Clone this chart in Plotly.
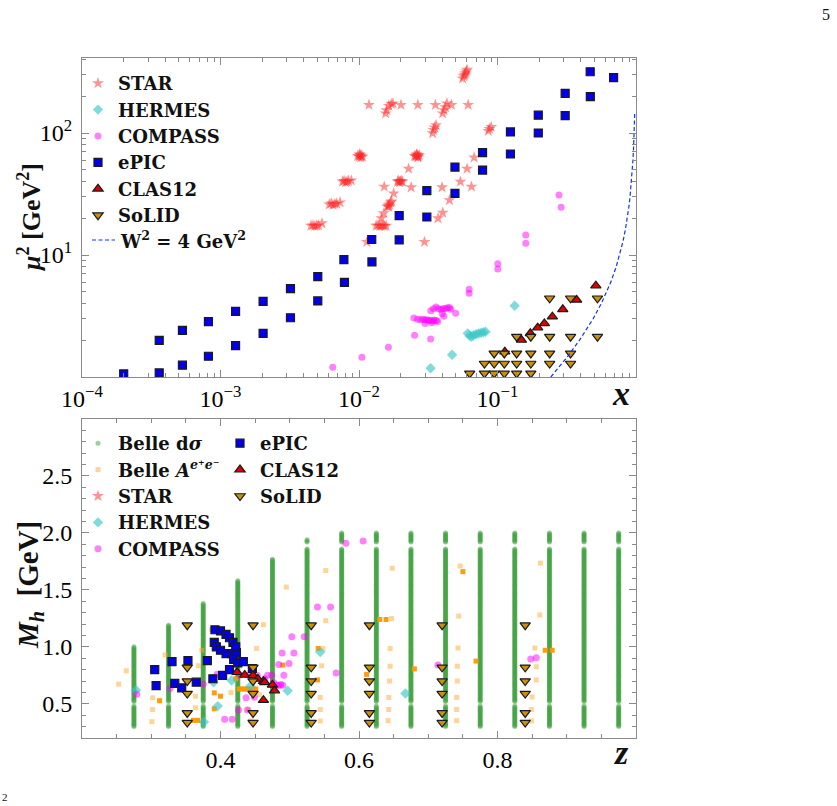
import plotly.graph_objects as go

# ------------------------------------------------------------------
# TOP PANEL  (x , mu^2)
# ------------------------------------------------------------------
star_top = [
    (0.0560, 280), (0.0570, 292), (0.0578, 300), (0.0587, 310), (0.0595, 320), (0.0603, 330),
    (0.0118, 170), (0.0201, 170), (0.0266, 170), (0.0356, 170), (0.0465, 170), (0.0614, 170),
    (0.0156, 145), (0.0158, 154), (0.0164, 167), (0.0171, 173), (0.0176, 175),
    (0.0402, 145), (0.0411, 154), (0.0421, 163), (0.0431, 175),
    (0.0340, 99.6), (0.0345, 106), (0.0352, 111), (0.0360, 116),
    (0.0858, 104), (0.0875, 108), (0.0900, 112),
    (0.0098, 65), (0.0100, 64), (0.0102, 66), (0.0104, 65), (0.0106, 64), (0.0101, 67), (0.0103, 63),
    (0.0252, 65), (0.0256, 64), (0.0260, 66), (0.0264, 65), (0.0268, 64), (0.0272, 66), (0.0262, 67), (0.0266, 63),
    (0.0678, 63), (0.0228, 51), (0.0603, 51),
    (0.0076, 40), (0.0078, 40.5), (0.0080, 39.5), (0.0082, 40), (0.0084, 40.5), (0.0088, 40.8),
    (0.0190, 40), (0.0193, 40.5), (0.0196, 39.5), (0.0199, 40), (0.0202, 40.5), (0.0206, 40),
    (0.0152, 36.3), (0.0238, 35.9), (0.0398, 35.9), (0.0540, 39.9), (0.0649, 36.3), (0.0178, 32), (0.0450, 28.2),
    (0.0061, 26), (0.0063, 26.5), (0.0065, 25.8), (0.0067, 26.2), (0.0069, 26.4), (0.0073, 27),
    (0.0160, 25), (0.0163, 25.5), (0.0166, 26), (0.0169, 27), (0.0172, 27.5), (0.0164, 24.8),
    (0.0133, 17.4), (0.0137, 17.5), (0.0141, 17.3), (0.0145, 17.4), (0.0149, 17.5), (0.0153, 17.3),
    (0.0157, 17.4), (0.0145, 20), (0.0151, 22),
    (0.0402, 22.2), (0.0372, 20),
    (0.00450, 17.4), (0.00465, 17.5), (0.00480, 17.3), (0.00495, 17.4), (0.00510, 17.5), (0.0054, 18.2),
    (0.0114, 12.8), (0.0297, 12.8),
]

hermes_top = [
    (0.0329, 1.18), (0.047, 1.52), (0.133, 3.84),
    (0.061, 2.28), (0.063, 2.18), (0.065, 2.14), (0.067, 2.20), (0.070, 2.24),
    (0.073, 2.27), (0.076, 2.30), (0.079, 2.33), (0.082, 2.35),
]

compass_top = [
    (0.00646, 1.20), (0.0105, 1.45), (0.0163, 1.75), (0.0252, 2.20), (0.0329, 2.05),
    (0.0249, 3.05), (0.0265, 2.98), (0.0278, 2.95), (0.0290, 2.97), (0.0300, 2.93), (0.0310, 2.95),
    (0.0320, 2.90), (0.0330, 2.92), (0.0340, 2.88), (0.0350, 2.93), (0.0362, 2.90), (0.0300, 2.74),
    (0.0335, 2.78), (0.0370, 2.85),
    (0.0330, 3.50), (0.0345, 3.62), (0.0360, 3.75), (0.0375, 3.62), (0.0390, 3.58), (0.0405, 3.65),
    (0.0420, 3.62), (0.0435, 3.70), (0.0450, 3.72), (0.0460, 3.60), (0.0400, 3.30), (0.0410, 3.15),
    (0.0499, 3.33),
    (0.0624, 5.23), (0.0624, 4.85), (0.1005, 8.49), (0.1005, 7.68),
    (0.160, 14.6), (0.160, 12.5), (0.278, 31.0), (0.288, 24.6),
]

epic_top = [
    (0.000200, 1.06), (0.000361, 2.0), (0.000361, 1.08), (0.000531, 2.41), (0.000531, 1.25),
    (0.000818, 2.84), (0.000818, 1.48), (0.001285, 3.45), (0.001285, 1.81), (0.00203, 4.17),
    (0.00203, 2.28), (0.0032, 5.3), (0.0032, 3.06), (0.00504, 6.64), (0.00504, 4.2),
    (0.00778, 9.15), (0.00785, 5.97), (0.01236, 13.4), (0.0124, 8.77), (0.0195, 21.0),
    (0.0195, 13.3), (0.0309, 33.7), (0.0309, 20.5), (0.0493, 52.6), (0.0493, 32.0),
    (0.078, 69), (0.078, 49.7), (0.124, 102), (0.124, 67.3), (0.197, 140), (0.197, 100),
    (0.308, 211), (0.308, 139), (0.467, 318), (0.468, 198.5), (0.689, 284),
]

clas12_top = [
    (0.513, 5.6), (0.373, 4.28), (0.296, 3.59), (0.249, 3.12), (0.218, 2.75),
    (0.195, 2.54), (0.1726, 2.28), (0.149, 2.01), (0.113, 1.61),
]

solid_top = [
    (0.238, 4.42), (0.337, 4.42), (0.527, 4.42),
    (0.1375, 2.14), (0.174, 2.14), (0.238, 2.14), (0.337, 2.14), (0.527, 2.14),
    (0.0946, 1.56), (0.112, 1.56), (0.1375, 1.56), (0.174, 1.56), (0.238, 1.56), (0.337, 1.56),
    (0.0805, 1.29), (0.0946, 1.29), (0.112, 1.29), (0.1375, 1.29), (0.174, 1.29), (0.238, 1.29), (0.337, 1.29),
    (0.063, 1.07), (0.0805, 1.07), (0.0946, 1.07), (0.112, 1.07), (0.1375, 1.07), (0.174, 1.07),
]

# W^2 = 4 GeV^2 boundary
W2 = 4.0
M_P2 = 0.938 ** 2
w2_mu2 = [1.0, 1.2, 1.5, 2, 2.5, 3, 4, 5, 6, 8, 10, 13, 16, 20, 25, 30, 40, 50, 60, 75, 90, 110, 130, 150]

# ------------------------------------------------------------------
# BOTTOM PANEL  (z , M_h)
# ------------------------------------------------------------------
belle_z_bins = [0.275, 0.325, 0.375, 0.425, 0.475, 0.525, 0.575, 0.625,
                0.675, 0.725, 0.775, 0.825, 0.875, 0.925, 0.975]
belle_mh_max = [1.00, 1.19, 1.38, 1.58, 1.77, 1.94, 2.00, 2.00,
                2.00, 2.00, 2.00, 2.00, 2.00, 2.00, 2.00]
belle_mh_min = 0.30
belle_mh_step = 0.01
belle_mh_gaps = [(0.485, 0.515), (1.860, 1.915)]   # excluded K0 / D0 mass windows

belleA_light = [
    (0.253, 0.673), (0.264, 0.79), (0.302, 0.553), (0.308, 0.82), (0.302, 0.45), (0.301, 0.343),
    (0.320, 0.93), (0.364, 0.567), (0.368, 0.834), (0.364, 0.465), (0.373, 0.97), (0.387, 1.15),
    (0.415, 0.60), (0.456, 0.58), (0.462, 1.195), (0.452, 0.986), (0.495, 1.525), (0.440, 0.45),
    (0.443, 0.35), (0.546, 0.834), (0.544, 0.556), (0.544, 0.45), (0.544, 0.349), (0.548, 0.985),
    (0.552, 1.23), (0.552, 1.67), (0.645, 0.985), (0.645, 0.83), (0.644, 0.70), (0.643, 0.556),
    (0.643, 0.45), (0.642, 0.352), (0.647, 1.248), (0.648, 1.69), (0.743, 0.99), (0.742, 0.83),
    (0.742, 0.70), (0.741, 0.556), (0.741, 0.45), (0.741, 0.352), (0.744, 1.27), (0.746, 1.71),
    (0.854, 0.99), (0.856, 0.825), (0.856, 0.71), (0.850, 0.56), (0.849, 0.45), (0.849, 0.35),
    (0.861, 1.28), (0.862, 1.735),
]
belleA_dense = [
    (0.312, 0.527), (0.361, 0.355), (0.367, 0.355), (0.391, 0.596), (0.400, 0.567), (0.391, 0.456),
    (0.427, 0.63), (0.431, 0.63), (0.435, 0.63), (0.439, 0.63), (0.443, 0.63), (0.447, 0.63),
    (0.451, 0.63), (0.422, 0.72), (0.490, 0.84), (0.540, 0.71), (0.541, 0.986), (0.611, 0.758),
    (0.630, 1.24), (0.639, 1.24), (0.680, 0.807), (0.750, 1.66), (0.769, 0.875), (0.869, 0.97),
    (0.879, 0.97),
]

hermes_bot = [
    (0.278, 0.62), (0.376, 0.34), (0.396, 0.48), (0.390, 0.69), (0.416, 0.705),
    (0.443, 0.655), (0.497, 0.615), (0.544, 0.955), (0.667, 0.59),
]

compass_bot = [
    (0.279, 0.585), (0.327, 0.635), (0.375, 0.675), (0.395, 0.76), (0.406, 0.364), (0.417, 0.364),
    (0.426, 0.445), (0.437, 0.553), (0.439, 0.445), (0.449, 0.558), (0.428, 0.753), (0.441, 0.75),
    (0.453, 0.75), (0.464, 0.72), (0.468, 0.75), (0.474, 0.75), (0.477, 0.685), (0.481, 0.665),
    (0.484, 0.66), (0.487, 0.67), (0.490, 0.662), (0.4915, 0.75), (0.484, 0.845), (0.499, 0.855),
    (0.489, 0.947), (0.506, 0.947), (0.503, 1.088), (0.521, 1.088), (0.540, 1.35), (0.559, 1.35),
    (0.567, 0.77), (0.581, 1.91), (0.606, 1.93), (0.714, 0.84), (0.848, 0.893), (0.856, 0.904),
]

epic_bot = [
    (0.305, 0.80), (0.307, 0.66), (0.330, 0.87), (0.334, 0.68), (0.344, 0.64), (0.353, 0.88),
    (0.365, 0.69), (0.381, 0.88), (0.389, 0.72), (0.403, 0.75), (0.413, 0.80), (0.392, 1.15),
    (0.400, 1.14), (0.408, 1.11), (0.413, 1.08), (0.418, 1.04), (0.391, 1.04), (0.394, 1.00),
    (0.400, 0.97), (0.408, 0.94), (0.417, 0.94), (0.423, 0.95), (0.419, 0.89), (0.425, 0.86),
    (0.433, 0.87), (0.446, 0.81), (0.422, 1.00),
]

clas12_bot = [
    (0.424, 0.777), (0.435, 0.753), (0.447, 0.750), (0.454, 0.718), (0.462, 0.698),
    (0.464, 0.689), (0.475, 0.666), (0.478, 0.616), (0.462, 0.532),
]

solid_z_bins = [0.352, 0.447, 0.531, 0.615, 0.720, 0.840]
solid_mh_bins = [1.19, 0.82, 0.70, 0.59, 0.42, 0.335]

# ------------------------------------------------------------------
SERIF = "Liberation Serif"
LEG_FONT = "DejaVu Serif"
C_STAR = "rgba(255,40,40,0.5)"
C_HERMES = "rgba(60,200,200,0.65)"
C_COMPASS = "rgba(255,0,255,0.5)"
C_EPIC = "#0000ee"
C_CLAS = "#e00000"
C_SOLID = "#c98f10"
C_BELLE = "rgba(60,160,60,0.5)"
C_BELLEA = "rgba(255,170,50,0.5)"
C_BELLEA_D = "rgba(255,150,0,0.95)"
C_W2 = "#1030ff"
W2_DASH = "4px,2.5px"
EDGE = dict(color="#1a1a1a", width=1.2)


def xs(p):
    return [a for a, _ in p]


def ys(p):
    return [b for _, b in p]


fig = go.Figure()

# ---------------- top panel ----------------
top = dict(xaxis="x", yaxis="y", legend="legend", mode="markers")
fig.add_trace(go.Scatter(x=xs(star_top), y=ys(star_top), name="<b>STAR</b>",
                         marker=dict(symbol="star", size=9, color=C_STAR, line=dict(width=0)), **top))
fig.add_trace(go.Scatter(x=xs(hermes_top), y=ys(hermes_top), name="<b>HERMES</b>",
                         marker=dict(symbol="diamond", size=8, color=C_HERMES, line=dict(width=0)), **top))
fig.add_trace(go.Scatter(x=xs(compass_top), y=ys(compass_top), name="<b>COMPASS</b>",
                         marker=dict(symbol="circle", size=7, color=C_COMPASS, line=dict(width=0)), **top))
fig.add_trace(go.Scatter(x=xs(epic_top), y=ys(epic_top), name="<b>ePIC</b>",
                         marker=dict(symbol="square", size=8, color=C_EPIC, line=EDGE), **top))
fig.add_trace(go.Scatter(x=xs(clas12_top), y=ys(clas12_top), name="<b>CLAS12</b>",
                         marker=dict(symbol="triangle-up", size=9, color=C_CLAS, line=EDGE), **top))
fig.add_trace(go.Scatter(x=xs(solid_top), y=ys(solid_top), name="<b>SoLID</b>",
                         marker=dict(symbol="triangle-down", size=9, color=C_SOLID, line=EDGE), **top))
w2_x = [m / (m + W2 - M_P2) for m in w2_mu2]
fig.add_trace(go.Scatter(x=w2_x, y=w2_mu2, mode="lines", xaxis="x", yaxis="y", showlegend=False,
                         name="W2", line=dict(color=C_W2, width=1.2, dash=W2_DASH)))

# ---------------- bottom panel ----------------
belle_z, belle_m = [], []
for zb, mmax in zip(belle_z_bins, belle_mh_max):
    k = 0
    while True:
        m = round(belle_mh_min + k * belle_mh_step, 3)
        if m > mmax + 1e-9:
            break
        if not any(lo < m < hi for lo, hi in belle_mh_gaps):
            belle_z.append(zb)
            belle_m.append(m)
        k += 1

fig.add_trace(go.Scatter(x=belle_z, y=belle_m, mode="markers", xaxis="x2", yaxis="y2", legend="legend2",
                         name="<b>Belle d<i>σ</i></b>",
                         marker=dict(symbol="circle", size=5, color=C_BELLE, line=dict(width=0))))
fig.add_trace(go.Scatter(x=xs(belleA_light), y=ys(belleA_light), mode="markers", xaxis="x2", yaxis="y2",
                         legend="legend2", legendgroup="bA",
                         name="<b>Belle <i>A</i><sup><i>e</i>⁺<i>e</i>⁻</sup></b>",
                         marker=dict(symbol="square", size=5, color=C_BELLEA, line=dict(width=0))))
fig.add_trace(go.Scatter(x=xs(belleA_dense), y=ys(belleA_dense), mode="markers", xaxis="x2", yaxis="y2",
                         legend="legend2", legendgroup="bA", showlegend=False,
                         marker=dict(symbol="square", size=5, color=C_BELLEA_D, line=dict(width=0))))
fig.add_trace(go.Scatter(x=[None], y=[None], mode="markers", xaxis="x2", yaxis="y2", legend="legend2",
                         name="<b>STAR</b>",
                         marker=dict(symbol="star", size=9, color=C_STAR, line=dict(width=0))))
fig.add_trace(go.Scatter(x=xs(hermes_bot), y=ys(hermes_bot), mode="markers", xaxis="x2", yaxis="y2",
                         legend="legend2", name="<b>HERMES</b>",
                         marker=dict(symbol="diamond", size=8, color=C_HERMES, line=dict(width=0))))
fig.add_trace(go.Scatter(x=xs(compass_bot), y=ys(compass_bot), mode="markers", xaxis="x2", yaxis="y2",
                         legend="legend2", name="<b>COMPASS</b>",
                         marker=dict(symbol="circle", size=7, color=C_COMPASS, line=dict(width=0))))
fig.add_trace(go.Scatter(x=xs(epic_bot), y=ys(epic_bot), mode="markers", xaxis="x2", yaxis="y2",
                         legend="legend3", name="<b>ePIC</b>",
                         marker=dict(symbol="square", size=8, color=C_EPIC, line=EDGE)))
fig.add_trace(go.Scatter(x=xs(clas12_bot), y=ys(clas12_bot), mode="markers", xaxis="x2", yaxis="y2",
                         legend="legend3", name="<b>CLAS12</b>",
                         marker=dict(symbol="triangle-up", size=9, color=C_CLAS, line=EDGE)))
solid_bz = [zb for zb in solid_z_bins for _ in solid_mh_bins]
solid_bm = [mb for _ in solid_z_bins for mb in solid_mh_bins]
fig.add_trace(go.Scatter(x=solid_bz, y=solid_bm, mode="markers", xaxis="x2", yaxis="y2",
                         legend="legend3", name="<b>SoLID</b>",
                         marker=dict(symbol="triangle-down", size=9, color=C_SOLID, line=EDGE)))

# ---------------- axes ----------------
W, H = 837, 806
PX0, PX1 = 82, 636
T0, T1 = 58, 377
B0, B1 = 419, 738


def px(v):
    return v / W


def py(v):
    return 1 - v / H


tick_font = dict(family=SERIF, size=24, color="black")
axis_common = dict(showline=True, linecolor="#8a8a8a", linewidth=1, mirror="ticks",
                   ticks="inside", ticklen=7, tickcolor="#8a8a8a", tickwidth=1,
                   showgrid=False, zeroline=False, tickfont=tick_font, automargin=False)

log_x_minor = [k * 10.0 ** n for n in range(-4, 0) for k in range(2, 10)]
log_y_minor = [k * 10.0 ** n for n in range(0, 3) for k in range(2, 10) if k * 10.0 ** n < 420]

leg_common = dict(xanchor="left", yanchor="top", bgcolor="rgba(0,0,0,0)",
                  font=dict(family=LEG_FONT, size=18, color="#111"), tracegroupgap=0, itemwidth=30)

fig.update_layout(
    width=W, height=H, margin=dict(l=0, r=0, t=0, b=0, autoexpand=False),
    paper_bgcolor="white", plot_bgcolor="white", autosize=False,
    xaxis=dict(domain=[px(PX0), px(PX1)], anchor="y", type="log", range=[-4, 0],
               tickmode="array", tickvals=[1e-4, 1e-3, 1e-2, 1e-1, 1],
               ticktext=["10<sup>−4</sup>", "10<sup>−3</sup>", "10<sup>−2</sup>", "10<sup>−1</sup>", ""],
               minor=dict(tickmode="array", tickvals=log_x_minor, ticks="inside", ticklen=4,
                          tickcolor="#8a8a8a", showgrid=False),
               **axis_common),
    yaxis=dict(domain=[py(T1), py(T0)], anchor="x", type="log", range=[0, 2.615],
               tickmode="array", tickvals=[1, 10, 100],
               ticktext=["", "10<sup>1</sup>", "10<sup>2</sup>"], ticklabelstandoff=4,
               minor=dict(tickmode="array", tickvals=log_y_minor, ticks="inside", ticklen=4,
                          tickcolor="#8a8a8a", showgrid=False),
               **axis_common),
    xaxis2=dict(domain=[px(PX0), px(PX1)], anchor="y2", range=[0.2, 1.0],
                tickmode="array", tickvals=[0.2, 0.4, 0.6, 0.8, 1.0],
                ticktext=["", "0.4", "0.6", "0.8", ""],
                minor=dict(dtick=0.05, ticks="inside", ticklen=4, tickcolor="#8a8a8a", showgrid=False),
                **axis_common),
    yaxis2=dict(domain=[py(B1), py(B0)], anchor="x2", range=[0.2, 3.0],
                tickmode="array", tickvals=[0.5, 1.0, 1.5, 2.0, 2.5],
                ticktext=["0.5", "1.0", "1.5", "2.0", "2.5"], ticklabelstandoff=4,
                minor=dict(dtick=0.1, ticks="inside", ticklen=4, tickcolor="#8a8a8a", showgrid=False),
                **axis_common),
    legend=dict(x=px(78), y=py(65), **leg_common),
    legend2=dict(x=px(78), y=py(425), **leg_common),
    legend3=dict(x=px(220), y=py(425), **leg_common),
    showlegend=True,
)

# legend entry for the W^2 boundary (dashed sample + label)
fig.add_shape(type="line", xref="paper", yref="paper", x0=px(92), x1=px(115), y0=py(240), y1=py(240),
              line=dict(color=C_W2, width=1.2, dash=W2_DASH))

ann = [
    dict(text="<b>W<sup>2</sup> = 4 GeV<sup>2</sup></b>", x=px(118), y=py(240), xanchor="left",
         font=dict(family=LEG_FONT, size=18, color="#111")),
    dict(text="<b><i>μ</i><sup>2</sup> [GeV<sup>2</sup>]</b>", x=px(29), y=py(218), textangle=-90,
         font=dict(family=SERIF, size=26, color="#111")),
    dict(text="<b><i>M<sub>h</sub></i>  [GeV]</b>", x=px(30), y=py(585), textangle=-90,
         font=dict(family=SERIF, size=29, color="#111")),
    dict(text="<b><i>x</i></b>", x=px(621), y=py(393), font=dict(family=SERIF, size=34, color="#111")),
    dict(text="<b><i>z</i></b>", x=px(621), y=py(752), font=dict(family=SERIF, size=34, color="#111")),
    dict(text="5", x=px(826), y=py(14), font=dict(family=SERIF, size=16, color="#111")),
    dict(text="2", x=px(5), y=py(797), font=dict(family=SERIF, size=11, color="#111")),
]
for a in ann:
    a.setdefault("xanchor", "center")
    a.update(xref="paper", yref="paper", showarrow=False, yanchor="middle")
fig.update_layout(annotations=ann)

fig.write_html("out.html")
